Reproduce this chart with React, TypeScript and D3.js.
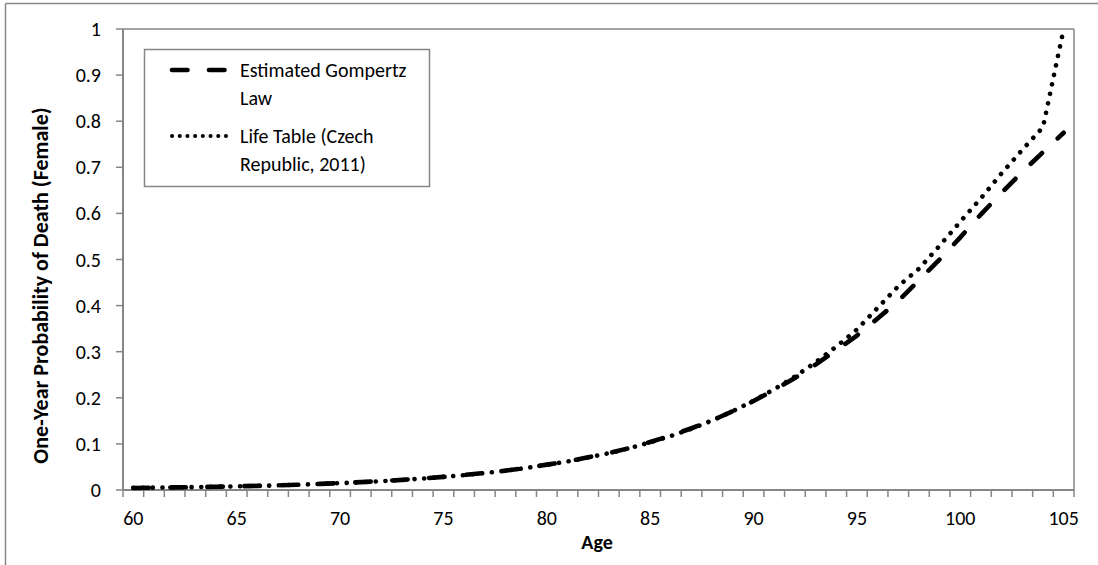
import React from "react";
import * as d3 from "d3";

const ages: number[] = [60,61,62,63,64,65,66,67,68,69,70,71,72,73,74,75,76,77,78,79,80,81,82,83,84,85,86,87,88,89,90,91,92,93,94,95,96,97,98,99,100,101,102,103,104,105];

const gompertz: number[] = [
  0.0045,0.005,0.0056,0.0063,0.0071,0.008,0.009,0.0102,0.0116,0.0132,
  0.015,0.017,0.0193,0.022,0.025,0.0285,0.0325,0.037,0.042,0.048,
  0.055,0.062,0.071,0.080,0.091,0.104,0.118,0.134,0.151,0.171,
  0.193,0.217,0.243,0.272,0.303,0.335,0.372,0.41,0.455,0.5,
  0.548,0.598,0.645,0.69,0.733,0.775
];

const lifeTable: number[] = [
  0.0048,0.0051,0.0057,0.0064,0.0071,0.0079,0.0089,0.0101,0.0114,0.0131,
  0.0149,0.0168,0.0191,0.0218,0.0248,0.0284,0.0322,0.0368,0.0419,0.0478,
  0.0547,0.0619,0.0705,0.0799,0.0907,0.1035,0.1172,0.133,0.1508,0.1712,
  0.1935,0.2185,0.246,0.277,0.311,0.348,0.395,0.442,0.48,0.53,
  0.582,0.633,0.687,0.738,0.787,1.0
];

const yTicks: number[] = [0,0.1,0.2,0.3,0.4,0.5,0.6,0.7,0.8,0.9,1];
const xLabelAges: number[] = [60,65,70,75,80,85,90,95,100,105];

const seriesNames = ["Estimated Gompertz", "Law", "Life Table (Czech", "Republic, 2011)"];

const FONT = "Carlito, Calibri, Lato, 'Liberation Sans', sans-serif";
const AXIS = "#868686";
const FS = 20;

export default function App() {
  const left = 123, right = 1074, top = 29, bottom = 490;
  const x = d3.scaleBand<number>().domain(ages).range([left, right]).paddingInner(0).paddingOuter(0);
  const cx = (a: number) => (x(a) as number) + x.bandwidth() / 2;
  const y = d3.scaleLinear().domain([0, 1]).range([bottom, top]);

  const line = d3.line<number>().x((_, i) => cx(ages[i])).y((d) => y(d));

  const boundaries = ages.map((a) => x(a) as number).concat([right]);

  return (
    <svg width={1098} height={565} style={{ position: "absolute", left: 0, top: 0, background: "#fff" }}>
      <rect x={0} y={0} width={1098} height={565} fill="#fff" />
      <line x1={5.5} y1={3.5} x2={1098} y2={3.5} stroke={AXIS} strokeWidth={1.5} />
      <line x1={5.5} y1={3.5} x2={5.5} y2={565} stroke={AXIS} strokeWidth={1.5} />

      <line x1={left} y1={top} x2={right} y2={top} stroke={AXIS} strokeWidth={1.5} />
      <line x1={right} y1={top} x2={right} y2={bottom} stroke={AXIS} strokeWidth={1.5} />

      <line x1={left} y1={top} x2={left} y2={bottom} stroke={AXIS} strokeWidth={2} />
      {yTicks.map((t) => (
        <g key={t}>
          <line x1={left - 7} x2={left} y1={y(t)} y2={y(t)} stroke={AXIS} strokeWidth={1.5} />
          <text x={101} y={y(t)} dy="0.35em" textAnchor="end" fontFamily={FONT} fontSize={FS} fill="#000">
            {String(t)}
          </text>
        </g>
      ))}

      <line x1={left} y1={bottom} x2={right} y2={bottom} stroke={AXIS} strokeWidth={2} />
      {boundaries.map((b, i) => (
        <line key={i} x1={b} x2={b} y1={bottom} y2={bottom + 7} stroke={AXIS} strokeWidth={1.5} />
      ))}
      {xLabelAges.map((a) => (
        <text key={a} x={cx(a)} y={518} dy="0.35em" textAnchor="middle" fontFamily={FONT} fontSize={FS} fill="#000">
          {a}
        </text>
      ))}

      <text x={597} y={542} dy="0.35em" textAnchor="middle" fontFamily={FONT} fontSize={FS} fontWeight="bold">Age</text>
      <text transform={`translate(40,${(top + bottom) / 2 + 26}) rotate(-90)`} dy="0.35em" textAnchor="middle" fontFamily={FONT} fontSize={22} fontWeight="bold">
        One-Year Probability of Death (Female)
      </text>

      <path d={line(lifeTable) || ""} fill="none" stroke="#000" strokeWidth={4.6} strokeLinecap="round" strokeDasharray="0.1 9.6" />
      <path d={line(gompertz) || ""} fill="none" stroke="#000" strokeWidth={4.6} strokeLinecap="round" strokeDasharray="15.5 21.5" />

      <rect x={144.5} y={49.5} width={285} height={137} fill="#fff" stroke={AXIS} strokeWidth={1.5} />
      <line x1={172} x2={226} y1={70} y2={70} stroke="#000" strokeWidth={4.6} strokeLinecap="round" strokeDasharray="15.5 21.5" />
      <text x={240} y={70} dy="0.35em" fontFamily={FONT} fontSize={FS}>{seriesNames[0]}</text>
      <text x={240} y={98} dy="0.35em" fontFamily={FONT} fontSize={FS}>{seriesNames[1]}</text>
      <line x1={172} x2={226} y1={136} y2={136} stroke="#000" strokeWidth={4} strokeLinecap="round" strokeDasharray="0.1 7.6" />
      <text x={240} y={136} dy="0.35em" fontFamily={FONT} fontSize={FS}>{seriesNames[2]}</text>
      <text x={240} y={164} dy="0.35em" fontFamily={FONT} fontSize={FS}>{seriesNames[3]}</text>
    </svg>
  );
}
